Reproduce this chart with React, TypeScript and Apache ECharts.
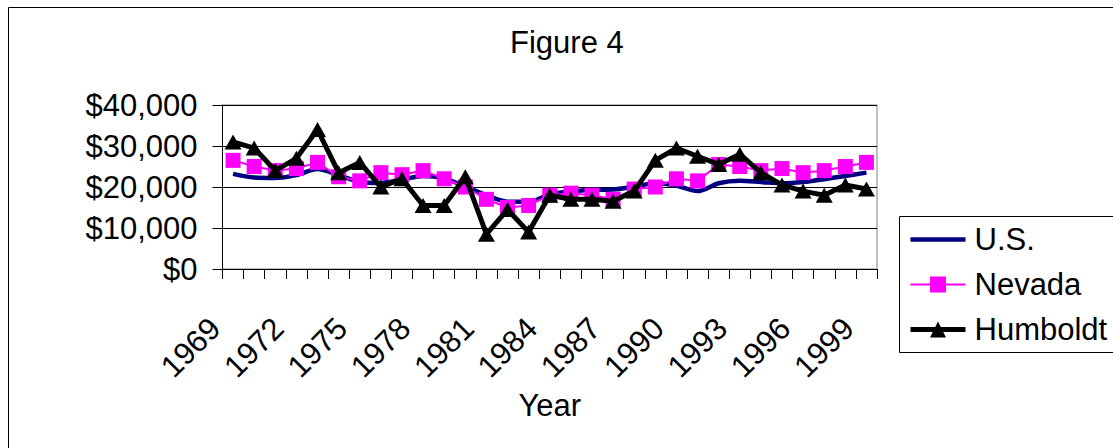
import { useEffect, useRef } from "react";
import * as echarts from "echarts";

const years = [
  "1969", "1970", "1971", "1972", "1973", "1974", "1975", "1976", "1977", "1978",
  "1979", "1980", "1981", "1982", "1983", "1984", "1985", "1986", "1987", "1988",
  "1989", "1990", "1991", "1992", "1993", "1994", "1995", "1996", "1997", "1998",
  "1999",
];

const usIncome = [
  23200, 22300, 22200, 22900, 24400, 22900, 21300, 21000, 21800, 22700,
  22100, 20100, 18000, 16400, 16400, 18200, 18900, 19300, 19400, 20100,
  20900, 20300, 19000, 20900, 21500, 21200, 20900, 21200, 21900, 22700,
  23500,
];

const nevadaIncome = [
  26500, 25000, 24000, 24500, 26000, 22500, 21500, 23500, 23000, 24000,
  22000, 20000, 17000, 15000, 15500, 18000, 18500, 18000, 17000, 19500,
  20000, 22000, 21500, 25500, 25000, 24000, 24500, 23500, 24000, 25000,
  26000,
];

const humboldtIncome = [
  31000, 29500, 24000, 27000, 34000, 23500, 26000, 20000, 22000, 15500,
  15500, 22500, 8500, 14500, 9000, 18000, 17000, 17000, 16500, 19000,
  26500, 29500, 27500, 25500, 28000, 23500, 20500, 19000, 18000, 20500,
  19500,
];

const seriesNames = ["U.S.", "Nevada", "Humboldt"];
const FONT = "'Liberation Sans', Arial, sans-serif";

export default function App() {
  const ref = useRef<HTMLDivElement>(null);

  useEffect(() => {
    document.body.style.margin = "0";
    const chart = echarts.init(ref.current!, null, { renderer: "svg" });
    chart.setOption({
      animation: false,
      backgroundColor: "#ffffff",
      textStyle: { fontFamily: FONT },
      title: {
        text: "Figure 4",
        left: 510,
        top: 27,
        padding: 0,
        textStyle: { fontSize: 31, fontWeight: "normal", color: "#000", fontFamily: FONT },
      },
      grid: {
        left: 222.5,
        right: 236,
        top: 105,
        bottom: 179,
        show: true,
        borderColor: "#808080",
        borderWidth: 1,
        backgroundColor: "transparent",
      },
      legend: {
        orient: "vertical",
        left: 908,
        top: 224,
        padding: 0,
        itemWidth: 55,
        itemHeight: 20,
        itemGap: 14,
        data: [
          {
            name: seriesNames[0],
            icon: "path://M0 0H55V4.5H0Z",
            itemStyle: { color: "#000080" },
          },
          { name: seriesNames[1], lineStyle: { width: 2 } },
          { name: seriesNames[2], lineStyle: { width: 5 } },
        ],
        textStyle: { fontSize: 31, color: "#000", fontFamily: FONT, padding: [0, 0, 0, 4] },
      },
      xAxis: {
        type: "category",
        data: years,
        boundaryGap: true,
        name: "Year",
        nameLocation: "middle",
        nameGap: 121,
        nameTextStyle: { fontSize: 31, color: "#000", fontFamily: FONT },
        axisLine: { lineStyle: { color: "#000", width: 1 } },
        axisTick: { show: true, interval: 0, length: 10, lineStyle: { color: "#000" } },
        axisLabel: {
          interval: 2,
          rotate: 45,
          margin: 58,
          verticalAlign: "bottom",
          padding: [0, 10, 0, 0],
          fontSize: 31,
          color: "#000",
          fontFamily: FONT,
        },
        splitLine: { show: false },
      },
      yAxis: {
        type: "value",
        min: 0,
        max: 40000,
        interval: 10000,
        axisLine: { show: true, lineStyle: { color: "#000", width: 1 } },
        axisTick: { show: true, length: 10, lineStyle: { color: "#000" } },
        axisLabel: {
          margin: 25,
          fontSize: 31,
          color: "#000",
          fontFamily: FONT,
          formatter: (v: number) => "$" + v.toLocaleString("en-US"),
        },
        splitLine: { show: true, lineStyle: { color: "#000", width: 1 } },
      },
      series: [
        {
          name: seriesNames[0],
          type: "line",
          data: usIncome,
          smooth: 0.3,
          symbol: "none",
          lineStyle: { color: "#000080", width: 4.5 },
          itemStyle: { color: "#000080" },
          z: 2,
        },
        {
          name: seriesNames[1],
          type: "line",
          data: nevadaIncome,
          symbol: "rect",
          symbolSize: 15,
          showAllSymbol: true,
          lineStyle: { color: "#FF00FF", width: 2 },
          itemStyle: { color: "#FF00FF" },
          z: 3,
        },
        {
          name: seriesNames[2],
          type: "line",
          data: humboldtIncome,
          symbol: "triangle",
          symbolSize: [17, 15],
          showAllSymbol: true,
          lineStyle: { color: "#000000", width: 5 },
          itemStyle: { color: "#000000" },
          z: 4,
        },
      ],
      graphic: [
        {
          type: "rect",
          shape: { x: 8.5, y: 7.5, width: 1200, height: 500 },
          style: { fill: "none", stroke: "#000", lineWidth: 1 },
          z: -1,
          silent: true,
        },
        {
          type: "rect",
          shape: { x: 899.5, y: 216.5, width: 300, height: 136 },
          style: { fill: "none", stroke: "#000", lineWidth: 1 },
          silent: true,
        },
      ],
    });
    return () => chart.dispose();
  }, []);

  return <div ref={ref} style={{ width: 1113, height: 448 }} />;
}
